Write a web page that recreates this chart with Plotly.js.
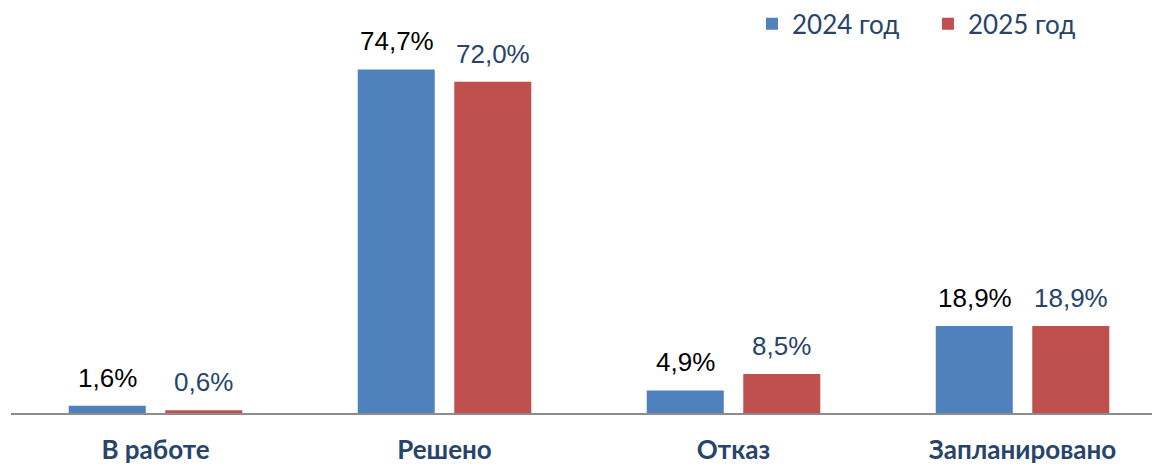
<!DOCTYPE html>
<html>
<head>
<meta charset="utf-8">
<script src="https://cdn.plot.ly/plotly-3.0.1.min.js"></script>
<style>html,body{margin:0;padding:0;background:#fff;}#chart{width:1152px;height:466px;}</style>
</head>
<body>
<div id="chart"></div>
<script>
const categories = ["В работе", "Решено", "Отказ", "Запланировано"];
const values2024 = [1.6, 74.7, 4.9, 18.9];
const values2025 = [0.6, 72.0, 8.5, 18.9];
const seriesNames = ["2024 год", "2025 год"];

const blue = "#4f81bd", red = "#c0504d", navy = "#27446a";
const fmt = v => v.toFixed(1).replace(".", ",") + "%";

const traces = [
  {type: "bar", name: seriesNames[0], x: categories, y: values2024, marker: {color: blue}, hoverinfo: "none"},
  {type: "bar", name: seriesNames[1], x: categories, y: values2025, marker: {color: red}, hoverinfo: "none"}
];

const annotations = [];
categories.forEach((c, i) => {
  annotations.push({x: c, y: values2024[i], xref: "x", yref: "y", text: fmt(values2024[i]), showarrow: false,
    xshift: -48, yanchor: "bottom", yshift: 11, font: {family: "Liberation Sans, Arial, sans-serif", size: 26, color: "#000"}});
  annotations.push({x: c, y: values2025[i], xref: "x", yref: "y", text: fmt(values2025[i]), showarrow: false,
    xshift: 48, yanchor: "bottom", yshift: 11, font: {family: "Liberation Sans, Arial, sans-serif", size: 26, color: navy}});
});

const layout = {
  width: 1152, height: 466,
  margin: {l: 11, r: 0, t: 0, b: 53, autoexpand: false},
  paper_bgcolor: "#fff", plot_bgcolor: "#fff",
  barmode: "group", bargap: 0.332, bargroupgap: 0.202,
  xaxis: {type: "category", range: [-0.5, 3.448], showline: true, linecolor: "#8c8c8c", linewidth: 2,
    showgrid: false, zeroline: false, ticks: "", fixedrange: true, ticklabelstandoff: 13,
    tickfont: {family: "Lato, sans-serif", size: 26, color: navy, weight: "bold"}},
  yaxis: {visible: false, range: [0, 89.8], showgrid: false, zeroline: false, fixedrange: true},
  showlegend: true,
  legend: {orientation: "h", x: 0.6494, xanchor: "left", y: 0.942, yanchor: "middle",
    entrywidth: 131, entrywidthmode: "pixels",
    font: {family: "Lato, sans-serif", size: 26, color: navy}, bgcolor: "rgba(0,0,0,0)"},
  annotations: annotations
};

Plotly.newPlot("chart", traces, layout, {staticPlot: true, displayModeBar: false});
</script>
</body>
</html>
